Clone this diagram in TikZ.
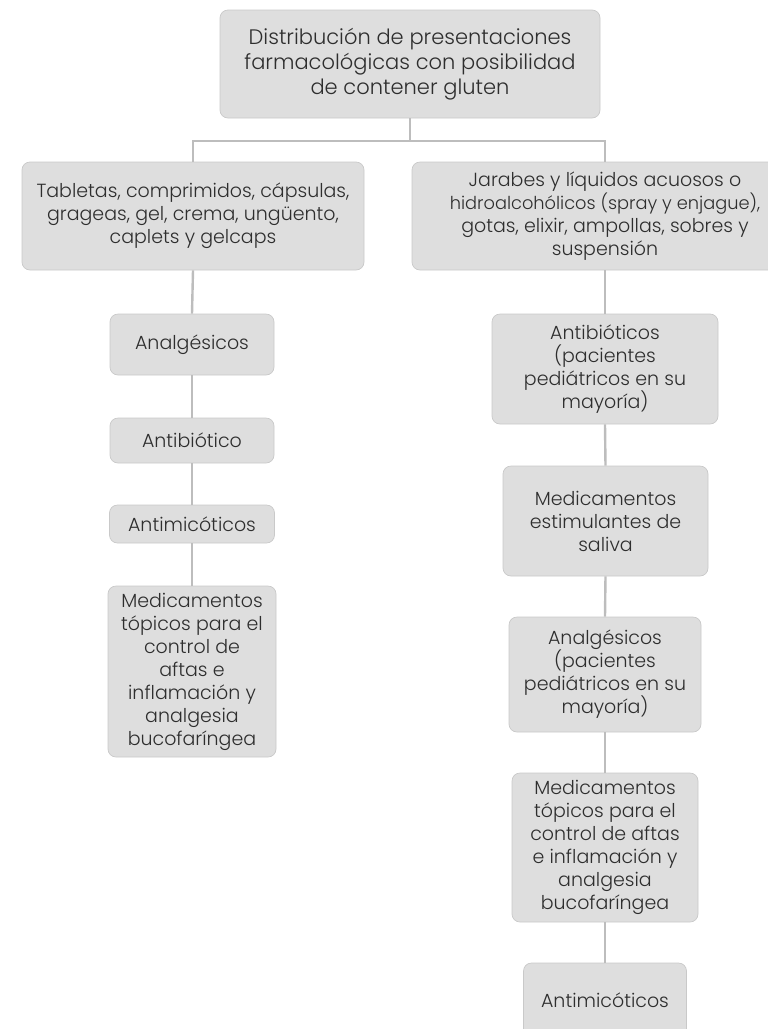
\documentclass[tikz,border=0pt]{standalone}
\usepackage{fontspec}
\setmainfont{Poppins}[UprightFont=* Light, BoldFont=* Medium]
\definecolor{boxfill}{HTML}{DEDEDE}
\definecolor{boxline}{HTML}{C9C9C9}
\definecolor{linkline}{HTML}{BDBDBD}
\definecolor{ink}{HTML}{2E2E2E}
\begin{document}
\begin{tikzpicture}[x=1pt,y=-1pt,
  card/.style={draw=boxline, line width=0.7pt, fill=boxfill, rounded corners=8pt,
    align=center, text=ink, inner sep=0pt,
    font=\fontsize{19}{23}\selectfont},
  link/.style={draw=linkline, line width=2.4pt}]
\useasboundingbox (0,0) rectangle (768,1029);
\clip (0,0) rectangle (768,1029);

% root
\node[card, minimum width=380pt, minimum height=108pt,
      font=\fontsize{21}{25}\selectfont] (top) at (410,64)
  {Distribución de presentaciones\\farmacológicas con posibilidad\\de contener gluten};

% two families of presentation
\node[card, minimum width=342pt, minimum height=108pt] (L1) at (193,216)
  {Tabletas, comprimidos, cápsulas,\\grageas, gel, crema, ungüento,\\caplets y gelcaps};
\node[card, minimum width=386pt, minimum height=108pt] (R1) at (605,216)
  {Jarabes y líquidos acuosos o\\{\fontsize{17.8}{23}\selectfont hidroalcohólicos (spray y enjague),}\\gotas, elixir, ampollas, sobres y\\suspensión};

% left column
\node[card, minimum width=164pt, minimum height=61pt] (La) at (192,344.5) {Analgésicos};
\node[card, minimum width=164pt, minimum height=45pt] (Lb) at (192,440.5) {Antibiótico};
\node[card, minimum width=165pt, minimum height=38pt] (Lc) at (192,524) {Antimicóticos};
\node[card, minimum width=168pt, minimum height=171pt] (Ld) at (192,671.5)
  {Medicamentos\\tópicos para el\\control de\\aftas e\\inflamación y\\analgesia\\bucofaríngea};

% right column
\node[card, minimum width=226pt, minimum height=110pt] (Ra) at (605,369)
  {Antibióticos\\(pacientes\\pediátricos en su\\mayoría)};
\node[card, minimum width=205pt, minimum height=110pt] (Rb) at (605.5,521)
  {Medicamentos\\estimulantes de\\saliva};
\node[card, minimum width=192pt, minimum height=115pt] (Rc) at (605,674.5)
  {Analgésicos\\(pacientes\\pediátricos en su\\mayoría)};
\node[card, minimum width=186pt, minimum height=149pt] (Rd) at (605,847.5)
  {Medicamentos\\tópicos para el\\control de aftas\\e inflamación y\\analgesia\\bucofaríngea};
\node[card, minimum width=163pt, minimum height=74pt] (Re) at (605,1000) {Antimicóticos};

% connectors
\coordinate (jn) at (410,141);
\draw[link] (top.south) -- (jn);
\draw[link] (jn) -| (L1.north);
\draw[link] (jn) -| (R1.north);
\draw[link] (L1.south) -- (La.north);
\draw[link] (La.south) -- (Lb.north);
\draw[link] (Lb.south) -- (Lc.north);
\draw[link] (Lc.south) -- (Ld.north);
\draw[link] (R1.south) -- (Ra.north);
\draw[link] (Ra.south) -- (Rb.north);
\draw[link] (Rb.south) -- (Rc.north);
\draw[link] (Rc.south) -- (Rd.north);
\draw[link] (Rd.south) -- (Re.north);
\end{tikzpicture}
\end{document}
